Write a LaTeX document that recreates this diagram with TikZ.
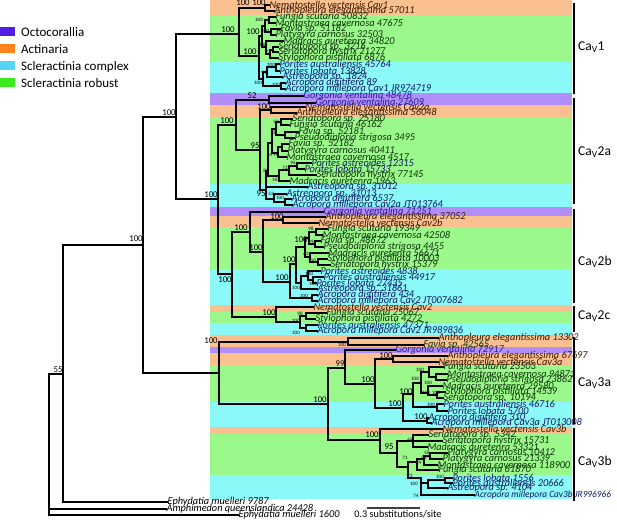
\documentclass[tikz,border=0pt]{standalone}
\usepackage{fontspec}
\setmainfont{Carlito}
\newfontfamily\leaffont[FakeStretch=0.98]{Carlito}
\definecolor{bO}{RGB}{250,192,143}
\definecolor{bG}{RGB}{155,249,140}
\definecolor{bC}{RGB}{140,249,249}
\definecolor{bP}{RGB}{178,142,248}
\definecolor{kOct}{RGB}{78,30,228}
\definecolor{kAct}{RGB}{255,132,30}
\definecolor{kCpx}{RGB}{90,212,245}
\definecolor{kRob}{RGB}{60,235,30}
\definecolor{tA}{RGB}{60,25,0}
\definecolor{tG}{RGB}{15,50,10}
\definecolor{tC}{RGB}{15,25,100}
\definecolor{tP}{RGB}{40,30,160}
\begin{document}
\begin{tikzpicture}[x=1pt,y=-1pt,
  br/.style={line width=1.1pt, line cap=rect, black},
  leaf/.style={anchor=west, inner sep=0.4pt, font=\leaffont\itshape\fontsize{10.5}{10.5}\selectfont},
  bsB/.style={inner sep=0pt, font=\fontsize{8.8}{8.8}\selectfont},
  bsS/.style={inner sep=0pt, font=\fontsize{5}{5}\selectfont},
  legkey/.style={minimum width=15pt, minimum height=9pt, inner sep=0pt, draw=none, anchor=south west},
  legtxt/.style={anchor=base west, inner sep=0pt, font=\fontsize{13}{13}\selectfont},
  cladebar/.style={line width=2.5pt, black},
  cladelab/.style={anchor=west, inner sep=0pt, font=\fontsize{13.5}{13.5}\selectfont}]
\useasboundingbox (0,0) rectangle (617,520);
% colour bands
\foreach \a/\b/\c in {0/15/bO, 15/62/bG, 62/93/bC, 93/105/bP, 105/117/bO, 117/184/bG,
  184/207/bC, 207/216/bP, 216/227/bO, 227/269/bG, 269/305/bC, 305/312/bO, 312/323/bG,
  323/335/bC, 335/347/bO, 347/353/bP, 353/365/bO, 365/402/bG, 402/427/bC, 427/434/bO,
  434/475/bG, 475/499/bC}
  {\fill[fill=\c] (210,\a) rectangle (572,\b);}
% legend
\node[legkey, fill=kOct] (k1) at (0,36) {};
\node[legkey, fill=kAct] (k2) at (0,53.3) {};
\node[legkey, fill=kCpx] (k3) at (0,70) {};
\node[legkey, fill=kRob] (k4) at (0,87.3) {};
\node[legtxt] (kt1) at (21,36) {Octocorallia};
\node[legtxt] (kt2) at (21,53.3) {Actinaria};
\node[legtxt] (kt3) at (21,70) {Scleractinia complex};
\node[legtxt] (kt4) at (21,87.3) {Scleractinia robust};
% internal nodes
\foreach \n/\x/\y in {root/49/374, n55/63/374, n143/143/245, n176/176/117, cav3/219/373,
  c1/239/34, c1act/265/8, c1scl/259/56, c1rob/262/36, c1ra/265/26, c1fm/269/20, c1fp/271/32,
  c1rb/266/47, c1sr/270/54, c1ss/273/50, c1cpx/263/79, c1pa/267/72, c1por/276/67, c1acr/281/86,
  cav2/218/199, c2a/236/125, c2g/269/100, c2a95/260/150, c2aact/271/110, c2a95b/266/190,
  n82/268/171, n69/272/143, n72a/276/129, n53/281/122, nFP/285/135, n94/278/153, nFa/282/147,
  n58/279/176, n72b/289/170, n96/297/166, n52/274/199, n2aAcr/285/202,
  cav2bc/232/274, c2b/250/232, n263/263/252, c2bact/283/220, nA/290/282, nB/296/264,
  nR/305/247, nR1/309/238, nFM2/316/232, nFP2/315/244, n6x/310/257, nSS2/318/262,
  nPA/301/283, nPor2/308/276, nPal2/313/280, nAcr2/312/298,
  c2c/276/317, n2c/300/322, nFS/306/316, nPAc/306/328,
  n3top/348/342, n3low/328/404, n99/345/368, n100a/375/384, c3aact/393/359, n3scl/403/408,
  nX/413/394, nRob3/421/383, nFMP/429/372, nMP/436/377, nMSS/428/393, nSS3/437/395,
  nPor3/437/407, nAcr3/427/421, c3b/380/440, n95/397/453, n68/413/441, n71/408/467,
  nRb3/417/462, n9a/424/459, n58b/430/456, n73/421/478, nPA3/428/483, nPor3b/445/480}
  {\coordinate (\n) at (\x,\y);}
% internal edges
\foreach \p/\c in {root/n55, n55/n143, n143/n176, n143/cav3, n176/c1, n176/cav2,
  c1/c1act, c1/c1scl, c1scl/c1rob, c1scl/c1cpx, c1rob/c1ra, c1rob/c1rb, c1ra/c1fm, c1ra/c1fp,
  c1rb/c1sr, c1sr/c1ss, c1cpx/c1pa, c1cpx/c1acr, c1pa/c1por,
  cav2/c2a, cav2/cav2bc, c2a/c2g, c2a/c2a95, c2a95/c2aact, c2a95/c2a95b, c2a95b/n82, c2a95b/n52,
  n82/n69, n82/n58, n69/n72a, n69/n94, n72a/n53, n72a/nFP, n94/nFa, n58/n72b, n72b/n96, n52/n2aAcr,
  cav2bc/c2b, cav2bc/c2c, c2b/n263, n263/c2bact, n263/nA, nA/nB, nA/nAcr2, nB/nR, nB/nPA,
  nR/nR1, nR/n6x, nR1/nFM2, nR1/nFP2, n6x/nSS2, nPA/nPor2, nPor2/nPal2,
  c2c/n2c, n2c/nFS, n2c/nPAc,
  cav3/n3top, cav3/n3low, n3low/n99, n3low/c3b, n99/n100a, n100a/c3aact, n100a/n3scl,
  n3scl/nX, n3scl/nAcr3, nX/nRob3, nX/nPor3, nRob3/nFMP, nRob3/nMSS, nFMP/nMP, nMSS/nSS3,
  c3b/n95, n95/n68, n95/n71, n71/nRb3, n71/n73, nRb3/n9a, n9a/n58b, n73/nPA3, nPA3/nPor3b}
  {\draw[br] (\p) |- (\c);}
% leaves
\foreach \x/\y/\t/\c/\p [count=\i] in {
269/5/Nematostella vectensis Cav1/tA/c1act,
274/11/Anthopleura elegantissima 57011/tA/c1act,
275/17/Fungia scutaria 50832/tG/c1fm,
275/23/Montastraea cavernosa 47675/tG/c1fm,
280/29/Favia sp. 51182/tG/c1fp,
275/35/Platygyra carnosus 32503/tG/c1fp,
283/41/Madracis auretenra 34820/tG/c1rb,
278/47/Seriatopora sp. 3216/tG/c1ss,
278/52/Seriatopora hystrix 21277/tG/c1ss,
278/58/Stylophora pistillata 6876/tG/c1sr,
279/64/Porites australiensis 45764/tC/c1por,
279/71/Porites lobata 13828/tC/c1por,
282/77/Astreopora sp. 1824/tC/c1pa,
285/83/Acropora digitifera 89/tC/c1acr,
285/89/Acropora millepora Cav1 JR974719/tC/c1acr,
303/96/Gorgonia ventalina 48478/tP/c2g,
315/103/Gorgonia ventalina 27609/tP/c2g,
305/107/Nematostella vectensis Cav2a/tA/c2aact,
296/113/Anthopleura elegantissima 56048/tA/c2aact,
292/119/Seriatopora sp. 25180/tG/n53,
289/125/Fungia scutaria 46162/tG/n53,
298/132/Favia sp. 52181/tG/nFP,
294/138/Pseudodiploria strigosa 3495/tG/nFP,
288/144/Favia sp. 52182/tG/nFa,
287/151/Platygyra carnosus 40411/tG/nFa,
286/157/Montastraea cavernosa 4517/tG/n94,
311/163/Porites astreoides 12315/tC/n96,
304/169/Porites lobata 15733/tC/n96,
316/175/Seriatopora hystrix 77145/tG/n72b,
289/181/Madracis auretenra 1963/tG/n58,
307/187/Astreopora sp. 31012/tC/c2a95b,
286/194/Astreopora sp. 31013/tC/n52,
291/199/Acropora digitifera 6537/tC/n2aAcr,
292/205/Acropora millepora Cav2a JT013764/tC/n2aAcr,
323/212/Gorgonia ventalina 71251/tP/c2b,
325/217/Anthopleura elegantissima 37052/tA/c2bact,
318/223/Nematostella vectensis Cav2b/tA/c2bact,
327/229/Fungia scutaria 19349/tG/nFM2,
322/235/Montastraea cavernosa 42508/tG/nFM2,
320/241/Favia sp. 48672/tG/nFP2,
323/247/Pseudodiploria strigosa 4455/tG/nFP2,
328/253/Madracis auretenra 56671/tG/n6x,
327/259/Stylophora pistillata 10003/tG/nSS2,
330/265/Seriatopora hystrix 15379/tG/nSS2,
320/271/Porites astreoides 4838/tC/nPor2,
323/277/Porites australiensis 44917/tC/nPal2,
316/283/Porites lobata 27435/tC/nPal2,
317/289/Astreopora sp. 31861/tC/nPA,
317/295/Acropora digitifera 434/tC/nAcr2,
317/301/Acropora millepora Cav2 JT007682/tC/nAcr2,
313/307/Nematostella vectensis Cav2/tA/c2c,
326/313/Fungia scutaria 25067/tG/nFS,
315/319/Stylophora pistillata 4272/tG/nFS,
317/325/Porites australiensis 47371/tC/nPAc,
317/331/Acropora millepora Cav2 JR989836/tC/nPAc,
438/338/Anthopleura elegantissima 13302/tA/n3top,
423/345/Favia sp. 42565/tG/n3top,
395/350/Gorgonia ventalina 72917/tP/n99,
447/356/Anthopleura elegantissima 67697/tA/c3aact,
438/362/Nematostella vectensis Cav3a/tA/c3aact,
443/367/Fungia scutaria 23503/tG/nFMP,
447/374/Montastraea cavernosa 94871/tG/nMP,
446/380/Pseudodiploria strigosa 23862/tG/nMP,
442/386/Madracis auretenra 29580/tG/nMSS,
445/392/Stylophora pistillata 14539/tG/nSS3,
443/398/Seriatopora sp. 10194/tG/nSS3,
443/404/Porites australiensis 46716/tC/nPor3,
447/411/Porites lobata 5700/tC/nPor3,
428/418/Acropora digitifera 310/tC/nAcr3,
431/423/Acropora millepora Cav3a JT013008/tC/nAcr3,
442/429/Nematostella vectensis Cav3b/tA/c3b,
428/435/Seriatopora sp. 5342/tG/n68,
442/441/Seriatopora hystrix 15731/tG/n68,
427/447/Madracis auretenra 53321/tG/n68,
447/453/Platygyra carnosus 10412/tG/n58b,
442/459/Platygyra carnosus 21339/tG/n58b,
437/465/Montastraea cavernosa 118900/tG/n9a,
438/470/Fungia scutaria 61870/tG/nRb3,
452/478/Porites lobata 1556/tC/nPor3b,
452/483/Porites australiensis 20666/tC/nPor3b,
447/488/Astreopora sp. 4104/tC/nPA3,
167/502/Ephydatia muelleri 9787/black/n55,
166/509/Amphimedon queenslandica 24428/black/root,
238/515/Ephydatia muelleri 1600/black/root}
{\node[leaf, text=\c] (L\i) at (\x,\y) {\t};
 \draw[br] (\p) |- (L\i.west);}
\node[leaf, text=tC, font=\leaffont\itshape\fontsize{9.5}{9.5}\selectfont] (Lcav3bam) at (474,495)
  {Acropora millepora Cav3b JR996966};
\draw[br] (n73) |- (Lcav3bam.west);
% support values, large
\foreach \x/\y/\t [count=\i] in {136/239/100, 169/113/100, 58/370/55, 228/30/100, 250/52/100,
  243/3/100, 259/3/100, 253/32/100,
  252/96/52, 227/121/100, 211/195/100, 255/146/95, 264/107/100, 261/194/95, 241/228/100,
  256/248/100, 277/217/100, 282/278/100, 289/260/100, 301/240/100, 269/313/100, 225/280/100,
  211/341/100, 340/364/99, 368/380/100, 395/404/100, 406/392/100, 421/417/100, 320/400/100,
  372/435/100, 386/356/100, 389/447/95}
  {\node[bsB] (sb\i) at (\x,\y) {\t};}
% support values, small
\foreach \x/\y/\t [count=\i] in {259/20/100, 265/31/100, 263/45/100, 268/52/97, 271/65/100,
  264/73/99, 258/83/100, 276/85/100,
  276/122/53, 273/133/72, 270/155/69, 276/155/94, 285/168/72, 293/163/96, 266/171/82,
  275/180/58, 271/194/52, 280/198/100,
  311/229/98, 311/242/99, 306/254/63, 312/261/100, 309/274/100, 313/284/100, 296/288/100,
  304/296/100, 300/314/98, 296/321/100, 296/333/100,
  342/345/100, 420/370/100, 415/379/100, 428/383/100, 426/393/100, 436/393/100, 431/405/100,
  410/440/68, 405/458/71, 427/453/58, 424/458/98, 419/463/99, 410/476/73, 414/484/100,
  416/496/74, 440/477/100}
  {\node[bsS] (ss\i) at (\x,\y) {\t};}
% clade bars and labels
\foreach \a/\b/\m/\t [count=\i] in {3/94/47/1, 98/204/152/2a, 209/303/262/2b,
  306/332/316/2c, 337/424/383/3a, 428/501/462/3b}
  {\coordinate (ba\i) at (574,\a); \coordinate (bb\i) at (574,\b);
   \draw[cladebar] (ba\i) -- (bb\i);
   \node[cladelab] (cl\i) at (578,\m) {Ca\textsubscript{V}\t};}
% scale bar
\coordinate (sbl) at (367,508);
\coordinate (sbr) at (420,508);
\draw[line width=1.6pt, black!75] (sbl) -- (sbr);
\node[inner sep=0pt, font=\fontsize{10.2}{10.2}\selectfont] (sbt) at (398,514) {0.3 substitutions/site};
\end{tikzpicture}
\end{document}
